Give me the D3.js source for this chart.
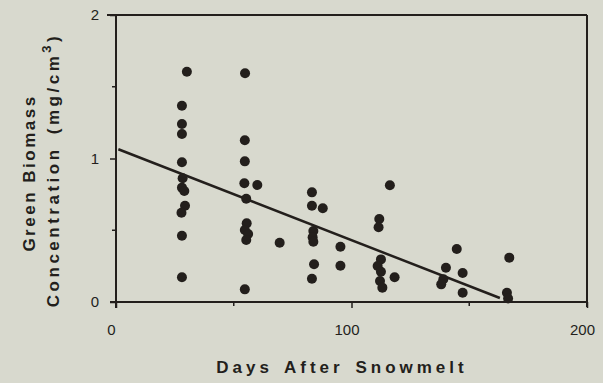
<!DOCTYPE html>
<html>
<head>
<meta charset="utf-8">
<script src="https://cdn.jsdelivr.net/npm/d3@7"></script>
<style>
  html, body { margin: 0; padding: 0; background: #d8d9ce; }
  svg { display: block; }
  text { font-family: "Liberation Sans", Arial, sans-serif; fill: #231f1c; }
</style>
</head>
<body>
<svg id="chart" width="603" height="383"></svg>
<script>
// Days after snowmelt for each sample
const days = [
  30.1, 28, 28, 28, 28, 28.3, 28, 29, 29.3, 27.8, 28, 28,
  54.8, 54.7, 54.7, 54.5, 60, 55.3, 55.5, 54.7, 56.1, 55.3, 69.5, 54.7,
  83.2, 83.2, 87.8, 83.8, 83.5, 83.8, 95.3, 84.1, 95.3, 83.2,
  116.3, 111.8, 111.5, 112.5, 111.1, 112.5, 118.3, 112.1, 113.1,
  144.7, 140.1, 147.2, 139, 138.1, 147.2, 167, 166, 166.5
];
// Green biomass concentration (mg/cm^3) for each sample
const biomass = [
  1.605, 1.368, 1.24, 1.171, 0.974, 0.862, 0.797, 0.774, 0.671, 0.622, 0.462, 0.172,
  1.594, 1.127, 0.98, 0.827, 0.815, 0.72, 0.548, 0.502, 0.474, 0.432, 0.413, 0.088,
  0.764, 0.671, 0.653, 0.495, 0.451, 0.42, 0.385, 0.263, 0.253, 0.162,
  0.813, 0.578, 0.521, 0.297, 0.251, 0.211, 0.172, 0.146, 0.1,
  0.369, 0.239, 0.202, 0.158, 0.123, 0.065, 0.309, 0.065, 0.025
];
// Linear fit: intercept, slope and the day range it is drawn over
const fitIntercept = 1.071;
const fitSlope = -0.0064;
const fitDays = [1, 163];

const xTicks = [0, 100, 200];
const xMinorTicks = [50, 150];
const yTicks = [0, 1, 2];
const yMinorTicks = [0.5, 1.5];

const ink = "#231f1c";
const font = "'Liberation Sans', Arial, sans-serif";
const svg = d3.select("#chart");

const x = d3.scaleLinear().domain([0, 200]).range([116, 587]);
const y = d3.scaleLinear().domain([0, 2]).range([302, 15]);

// Frame: top and right edges
svg.append("line").attr("x1", 107).attr("x2", x(200)).attr("y1", y(2)).attr("y2", y(2))
  .attr("stroke", ink).attr("stroke-width", 2);
svg.append("line").attr("x1", x(200)).attr("x2", x(200)).attr("y1", y(2)).attr("y2", 307)
  .attr("stroke", ink).attr("stroke-width", 2);

// Left axis
const yAxis = d3.axisLeft(y).tickValues(yTicks).tickFormat(d3.format("d")).tickSize(6).tickPadding(11);
const gy = svg.append("g").attr("transform", `translate(${x(0)},0)`).call(yAxis);
gy.select(".domain").remove();
gy.append("line").attr("x1", 0).attr("x2", 0).attr("y1", y(2)).attr("y2", 308)
  .attr("stroke", ink).attr("stroke-width", 2);
gy.selectAll(".tick line").attr("stroke", ink).attr("stroke-width", 1.5);
gy.selectAll(".tick text").attr("font-size", 15).attr("fill", ink).style("font-family", font);
gy.selectAll(".minor").data(yMinorTicks).enter().append("line")
  .attr("x1", -4).attr("x2", 0).attr("y1", d => y(d)).attr("y2", d => y(d))
  .attr("stroke", ink).attr("stroke-width", 1.5);

// Bottom axis
const xAxis = d3.axisBottom(x).tickValues(xTicks).tickFormat(d3.format("d")).tickSize(6).tickPadding(16);
const gx = svg.append("g").attr("transform", `translate(0,${y(0)})`).call(xAxis);
gx.select(".domain").remove();
gx.append("line").attr("x1", 110).attr("x2", x(200)).attr("y1", 0).attr("y2", 0)
  .attr("stroke", ink).attr("stroke-width", 2);
gx.selectAll(".tick line").attr("stroke", ink).attr("stroke-width", 1.5);
gx.selectAll(".tick text").attr("font-size", 15).attr("fill", ink).attr("dx", -5)
  .style("font-family", font);
gx.selectAll(".minor").data(xMinorTicks).enter().append("line")
  .attr("x1", d => x(d)).attr("x2", d => x(d)).attr("y1", 0).attr("y2", 4)
  .attr("stroke", ink).attr("stroke-width", 1.5);

// Regression line
svg.append("line")
  .attr("x1", x(fitDays[0])).attr("y1", y(fitIntercept + fitSlope * fitDays[0]))
  .attr("x2", x(fitDays[1])).attr("y2", y(fitIntercept + fitSlope * fitDays[1]))
  .attr("stroke", ink).attr("stroke-width", 2.5);

// Sample points
svg.append("g").selectAll("circle")
  .data(days.map((d, i) => [d, biomass[i]]))
  .enter().append("circle")
  .attr("cx", d => x(d[0])).attr("cy", d => y(d[1])).attr("r", 5)
  .attr("fill", ink);

// Axis titles
svg.append("text").attr("x", 342).attr("y", 373).attr("text-anchor", "middle")
  .attr("font-size", 17).attr("font-weight", "bold")
  .attr("letter-spacing", 4).attr("word-spacing", 3)
  .text("Days After Snowmelt");

const yTitle = svg.append("g").attr("transform", "rotate(-90)");
yTitle.append("text").attr("x", -173).attr("y", 35).attr("text-anchor", "middle")
  .attr("font-size", 17).attr("font-weight", "bold").attr("letter-spacing", 2.5)
  .text("Green Biomass");
const t2 = yTitle.append("text").attr("x", -170).attr("y", 59).attr("text-anchor", "middle")
  .attr("font-size", 17).attr("font-weight", "bold")
  .attr("letter-spacing", 3.5).attr("word-spacing", 4);
t2.append("tspan").text("Concentration (mg/cm");
t2.append("tspan").attr("dy", -8).attr("font-size", 13).text("3");
t2.append("tspan").attr("dy", 8).text(")");
</script>
</body>
</html>
